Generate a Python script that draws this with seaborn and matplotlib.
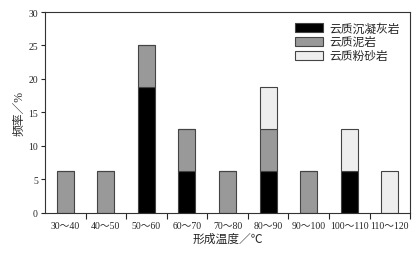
import numpy as np
import pandas as pd
import seaborn as sns
import matplotlib.pyplot as plt

sns.set_style("ticks")
plt.rcParams['font.family'] = ['Liberation Serif', 'Noto Sans CJK SC']
plt.rcParams['axes.unicode_minus'] = False

cats = ["30～40", "40～50", "50～60", "60～70", "70～80", "80～90", "90～100", "100～110", "110～120"]
tuff = [0, 0, 18.75, 6.25, 0, 6.25, 0, 6.25, 0]
mud = [6.25, 6.25, 6.25, 6.25, 6.25, 6.25, 6.25, 0, 0]
silt = [0, 0, 0, 0, 0, 6.25, 0, 6.25, 6.25]
names = ["云质沉凝灰岩", "云质泥岩", "云质粉砂岩"]
colors = ["#000000", "#999999", "#eeeeee"]

df = pd.DataFrame({"cat": cats, "tuff": tuff, "mud": mud, "silt": silt})

fig = plt.figure(figsize=(4.16, 2.55), dpi=100)
ax = fig.add_axes([0.108, 0.161, 0.878, 0.788])

bottom = np.zeros(len(cats))
for col, n, c in zip(["tuff", "mud", "silt"], names, colors):
    vals = df[col].values
    sns.barplot(data=df, x="cat", y=col, order=cats, color=c, bottom=bottom,
                width=0.42, edgecolor="#444444", linewidth=0.8, label=n, ax=ax,
                saturation=1)
    bottom = bottom + vals

ax.set_ylim(0, 30)
ax.set_xlim(-0.5, len(cats) - 0.5)
ax.set_yticks([0, 5, 10, 15, 20, 25, 30])
ax.set_xticks(np.arange(len(cats)) + 0.5, minor=True)
ax.tick_params(axis="x", which="major", length=0, labelsize=7, pad=6)
ax.tick_params(axis="x", which="minor", length=4, width=0.8, direction="out")
ax.tick_params(axis="y", length=3, width=0.8, labelsize=7, pad=2)
for s in ax.spines.values():
    s.set_linewidth(0.8)
    s.set_color("#333333")

ax.set_xlabel("形成温度／℃", fontsize=8.5, labelpad=2)
ax.set_ylabel("频率／%", fontsize=8.5, labelpad=2)

leg = ax.legend(loc="upper right", fontsize=8.5, frameon=False, handlelength=2.4,
                handleheight=0.8, labelspacing=0.15, borderaxespad=0.5,
                handletextpad=0.5)

fig.savefig("out.png", dpi=100)
